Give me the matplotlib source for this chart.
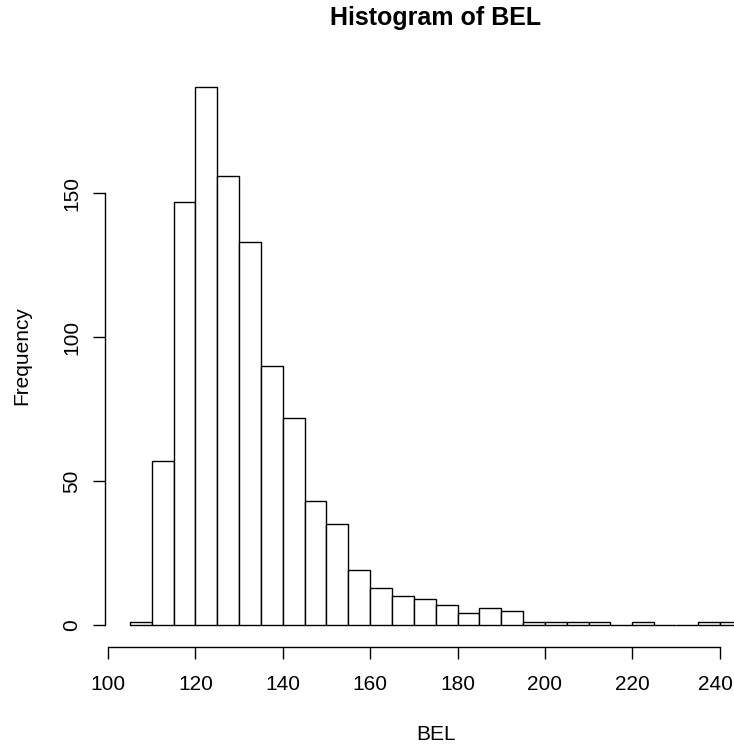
import matplotlib
matplotlib.use("Agg")
import matplotlib.pyplot as plt
import matplotlib.transforms as mtransforms
import numpy as np

# histogram of BEL, bins of width 5 starting at 105
bin_edges = np.arange(105, 250, 5)
counts = [1, 57, 147, 187, 156, 133, 90, 72, 43, 35,
          19, 13, 10, 9, 7, 4, 6, 5, 1, 1,
          1, 1, 0, 1, 0, 0, 1, 1]
x_ticks = [100, 120, 140, 160, 180, 200, 220, 240]
y_ticks = [0, 50, 100, 150]

plt.rcParams['font.family'] = ['Liberation Sans', 'DejaVu Sans']

fig = plt.figure(figsize=(7.34, 7.51), dpi=100)
# plot region runs past the right edge of the picture, like the cropped R output
ax = fig.add_axes([0.1436, 0.1391, 0.900, 0.7743])

ax.bar(bin_edges[:-1], counts, width=5, align='edge',
       facecolor='white', edgecolor='black', linewidth=1.0)

lo, hi = bin_edges[0], bin_edges[-1]
pad_x = 0.04 * (hi - lo)
ax.set_xlim(lo - pad_x, hi + pad_x)
ax.set_ylim(-0.04 * max(counts), 1.04 * max(counts))

for s in ['top', 'right']:
    ax.spines[s].set_visible(False)
ax.spines['left'].set_bounds(0, 150)
ax.spines['bottom'].set_bounds(100, 240)
ax.spines['left'].set_linewidth(1.0)
ax.spines['bottom'].set_linewidth(1.0)

ax.set_xticks(x_ticks)
ax.set_yticks(y_ticks)
ax.set_yticklabels([str(v) for v in y_ticks], rotation=90, va='center')
ax.tick_params(axis='both', length=8.6, width=1.0, labelsize=15,
               colors='black')
ax.tick_params(axis='x', pad=12)
ax.tick_params(axis='y', pad=9)

# nudge the last x label left a touch so it stays inside the picture
last = ax.get_xticklabels()[-1]
last.set_transform(last.get_transform() +
                   mtransforms.ScaledTranslation(-3 / 72, 0, fig.dpi_scale_trans))

ax.set_xlabel('BEL', fontsize=15, labelpad=22)
ax.set_ylabel('Frequency', fontsize=15, labelpad=22)
fig.text(0.594, 0.976, 'Histogram of BEL', fontsize=18, fontweight='bold',
         ha='center', va='center')

fig.savefig('out.png', dpi=100)
